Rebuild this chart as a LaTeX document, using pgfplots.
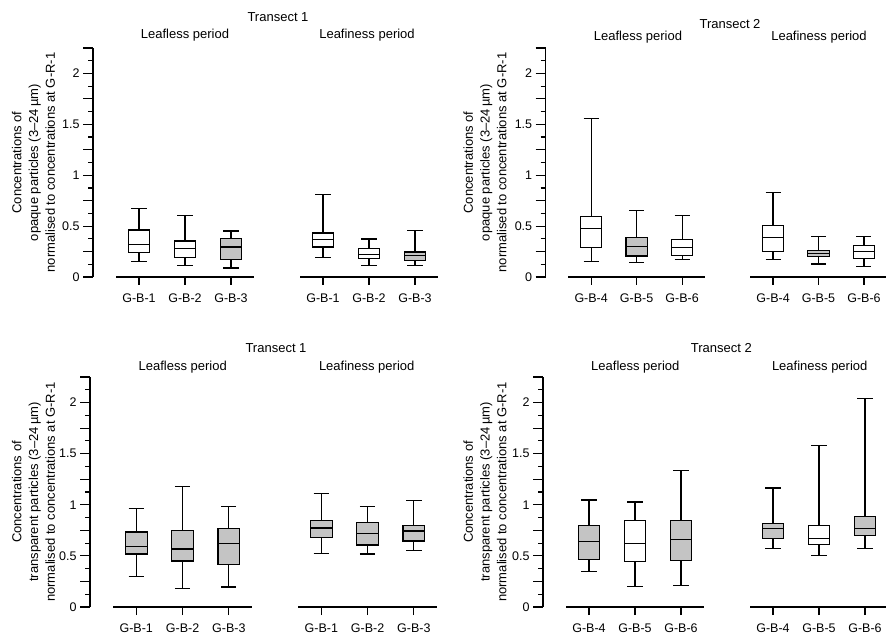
\documentclass[border=0pt]{standalone}
\usepackage{pgfplots}
\pgfplotsset{compat=1.18}
\usepgfplotslibrary{statistics}
\usepackage{fontspec}
\setmainfont{Liberation Sans}
\definecolor{boxgray}{RGB}{196,196,196}
\newcommand{\bx}[7]{\addplot[draw=black, line width=1.2pt, fill=#7,
  boxplot prepared={draw direction=y, draw position=#1, lower whisker=#2, lower quartile=#3,
  median=#4, upper quartile=#5, upper whisker=#6, box extend=0.47, whisker extend=0.33}]
  coordinates {};}
\pgfplotsset{
  panel/.style={
    scale only axis, clip=false,
    xmin=0, xmax=7.5, ymin=0, ymax=2.25,
    axis y line=left, axis x line=bottom,
    y axis line style={-, line width=1.2pt},
    x axis line style={-, draw=none},
    tick align=outside,
    major tick length=10pt, minor tick length=5pt,
    every tick/.style={black, line width=1.2pt},
    ytick={0,0.25,...,2.25},
    yticklabels={0,,0.5,,1,,1.5,,2,},
    minor y tick num=1,
    xtick={1,2,3,5,6,7},
    xtick style={/pgfplots/major tick length=8pt},
    tick label style={font=\fontsize{12.5}{14}\selectfont},
    xticklabel style={yshift=-3.5pt},
    /pgf/number format/assume math mode=true,
  }
}
\newcommand{\segs}{\addplot[black, line width=1.3pt, mark=none, forget plot] coordinates {(0.5,0) (3.5,0)};
  \addplot[black, line width=1.3pt, mark=none, forget plot] coordinates {(4.5,0) (7.5,0)};}
\begin{document}
\begin{tikzpicture}
\useasboundingbox (0pt,0pt) rectangle (886pt,634pt);
\tikzset{ttl/.style={anchor=base, font=\fontsize{13}{15}\selectfont, inner sep=0pt},
  ylab/.style={rotate=90, anchor=center, align=center, font=\fontsize{13}{16.7}\selectfont, inner sep=0pt}}
% ---------- top left ----------
\begin{axis}[panel, at={(93pt,357pt)}, anchor=south west, width=345pt, height=229pt,
  xticklabels={G-B-1,G-B-2,G-B-3,G-B-1,G-B-2,G-B-3}]
\segs
\bx{1}{0.154}{0.239}{0.318}{0.462}{0.672}{white}
\bx{2}{0.115}{0.193}{0.279}{0.354}{0.603}{white}
\bx{3}{0.089}{0.174}{0.295}{0.377}{0.452}{boxgray}
\bx{5}{0.193}{0.295}{0.367}{0.433}{0.810}{white}
\bx{6}{0.115}{0.180}{0.220}{0.279}{0.374}{white}
\bx{7}{0.115}{0.164}{0.210}{0.246}{0.459}{boxgray}
\end{axis}
\node[ylab] at (33.5pt,471.5pt) {Concentrations of\\opaque particles (3--24\,µm)\\normalised to concentrations at G-R-1};
\node[ttl] at (278pt,612.3pt) {Transect 1};
\node[ttl] at (185pt,595pt) {Leafless period};
\node[ttl] at (367pt,595pt) {Leafiness period};
% ---------- top right ----------
\begin{axis}[panel, at={(545.7pt,357pt)}, anchor=south west, width=341pt, height=229pt,
  xticklabels={G-B-4,G-B-5,G-B-6,G-B-4,G-B-5,G-B-6}]
\segs
\bx{1}{0.155}{0.293}{0.474}{0.592}{1.556}{white}
\bx{2}{0.141}{0.207}{0.296}{0.385}{0.655}{boxgray}
\bx{3}{0.174}{0.214}{0.286}{0.365}{0.602}{white}
\bx{5}{0.168}{0.247}{0.385}{0.503}{0.829}{white}
\bx{6}{0.128}{0.204}{0.230}{0.257}{0.401}{boxgray}
\bx{7}{0.105}{0.178}{0.247}{0.306}{0.398}{white}
\end{axis}
\node[ylab] at (485pt,471.5pt) {Concentrations of\\opaque particles (3--24\,µm)\\normalised to concentrations at G-R-1};
\node[ttl] at (730pt,605.7pt) {Transect 2};
\node[ttl] at (638pt,593pt) {Leafless period};
\node[ttl] at (819pt,593pt) {Leafiness period};
% ---------- bottom left ----------
\begin{axis}[panel, at={(90pt,27pt)}, anchor=south west, width=347pt, height=230pt,
  xticklabels={G-B-1,G-B-2,G-B-3,G-B-1,G-B-2,G-B-3}]
\segs
\bx{1}{0.300}{0.518}{0.590}{0.733}{0.964}{boxgray}
\bx{2}{0.182}{0.450}{0.567}{0.746}{1.176}{boxgray}
\bx{3}{0.195}{0.417}{0.619}{0.765}{0.984}{boxgray}
\bx{5}{0.524}{0.678}{0.772}{0.850}{1.111}{boxgray}
\bx{6}{0.518}{0.606}{0.720}{0.827}{0.987}{boxgray}
\bx{7}{0.554}{0.645}{0.743}{0.798}{1.042}{boxgray}
\end{axis}
\node[ylab] at (33.5pt,142pt) {Concentrations of\\transparent particles (3--24\,µm)\\normalised to concentrations at G-R-1};
\node[ttl] at (276pt,281.7pt) {Transect 1};
\node[ttl] at (182.7pt,263.3pt) {Leafless period};
\node[ttl] at (366.7pt,263.3pt) {Leafiness period};
% ---------- bottom right ----------
\begin{axis}[panel, at={(543pt,27pt)}, anchor=south west, width=345pt, height=230pt,
  xticklabels={G-B-4,G-B-5,G-B-6,G-B-4,G-B-5,G-B-6}]
\segs
\bx{1}{0.345}{0.465}{0.641}{0.800}{1.047}{boxgray}
\bx{2}{0.198}{0.446}{0.621}{0.849}{1.028}{white}
\bx{3}{0.211}{0.455}{0.660}{0.849}{1.333}{boxgray}
\bx{5}{0.572}{0.670}{0.771}{0.816}{1.164}{boxgray}
\bx{6}{0.507}{0.615}{0.673}{0.797}{1.580}{white}
\bx{7}{0.572}{0.702}{0.767}{0.885}{2.042}{boxgray}
\end{axis}
\node[ylab] at (485pt,142pt) {Concentrations of\\transparent particles (3--24\,µm)\\normalised to concentrations at G-R-1};
\node[ttl] at (721.3pt,281.7pt) {Transect 2};
\node[ttl] at (635.3pt,263.3pt) {Leafless period};
\node[ttl] at (819.7pt,263.3pt) {Leafiness period};
\end{tikzpicture}
\end{document}
